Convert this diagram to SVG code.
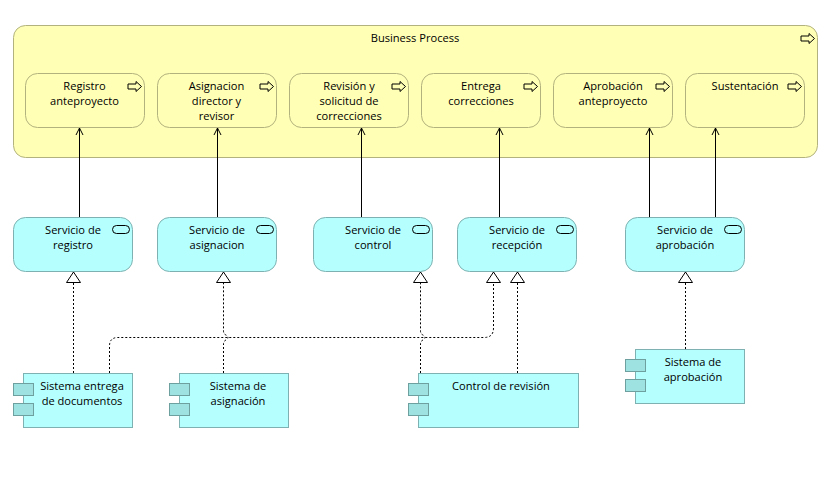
<svg xmlns="http://www.w3.org/2000/svg" width="826" height="496" viewBox="0 0 826 496">
<defs>
<marker id="open" markerUnits="userSpaceOnUse" markerWidth="10" markerHeight="10" refX="8" refY="5" orient="auto"><path d="M1 1.500 L8 5 L1 8.500" fill="none" stroke="#000" stroke-width="1"/></marker>
<marker id="tri" markerUnits="userSpaceOnUse" markerWidth="13" markerHeight="16" refX="11.500" refY="8" orient="auto"><path d="M11.500 8 L1 1 L1 15 Z" fill="#fff" stroke="#000" stroke-width="1"/></marker>
<g id="arrowIcon"><path d="M0.500 -2.500 H8.500 V-5 L14 0 L8.500 5 V2.500 H0.500 Z" fill="#ffffb5" stroke="#000" stroke-width="1"/></g>
<rect id="svcIcon" x="0" y="0" width="17" height="8" rx="4" ry="4" fill="#b5ffff" stroke="#000" stroke-width="1"/>
</defs>
<style>
text{font-family:"Open Sans","Noto Sans","Liberation Sans",sans-serif;font-size:11.1px;fill:#000;text-anchor:middle}
.proc{fill:#ffffb5;stroke:#b2b27e;stroke-width:1}
.svc{fill:#b5ffff;stroke:#7eb2b2;stroke-width:1}
.plug{fill:#9ee2e2;stroke:#6ea0a0;stroke-width:1}
.flow{fill:none;stroke:#000;stroke-width:1}
.real{fill:none;stroke:#000;stroke-width:1;stroke-dasharray:2 2}
</style>
<g id="business-process"><rect class="proc" x="13.500" y="25.500" width="804" height="132" rx="12"/><text x="415" y="42">Business Process</text><use href="#arrowIcon" x="800.500" y="38.500"/></g>
<g id="registro"><rect class="proc" x="25.500" y="73.500" width="119" height="54" rx="12"/><text x="84.500" y="90">Registro</text><text x="84.500" y="105">anteproyecto</text><use href="#arrowIcon" x="127.500" y="86.500"/></g>
<g id="asignacion"><rect class="proc" x="157.500" y="73.500" width="119" height="54" rx="12"/><text x="216.500" y="90">Asignacion</text><text x="216.500" y="105">director y</text><text x="216.500" y="120">revisor</text><use href="#arrowIcon" x="259.500" y="86.500"/></g>
<g id="revision"><rect class="proc" x="289.500" y="73.500" width="119" height="54" rx="12"/><text x="349" y="90">Revisión y</text><text x="349" y="105">solicitud de</text><text x="349" y="120">correcciones</text><use href="#arrowIcon" x="391.500" y="86.500"/></g>
<g id="entrega"><rect class="proc" x="421.500" y="73.500" width="119" height="54" rx="12"/><text x="481" y="90">Entrega</text><text x="481" y="105">correcciones</text><use href="#arrowIcon" x="523.500" y="86.500"/></g>
<g id="aprobacion"><rect class="proc" x="553.500" y="73.500" width="119" height="54" rx="12"/><text x="613" y="90">Aprobación</text><text x="613" y="105">anteproyecto</text><use href="#arrowIcon" x="655.500" y="86.500"/></g>
<g id="sustentacion"><rect class="proc" x="685.500" y="73.500" width="119" height="54" rx="12"/><text x="745" y="90">Sustentación</text><use href="#arrowIcon" x="787.500" y="86.500"/></g>
<g id="srv-registro"><rect class="svc" x="13.500" y="217.500" width="119" height="54" rx="12"/><text x="73" y="234">Servicio de</text><text x="73" y="249">registro</text><use href="#svcIcon" x="112.500" y="225.500"/></g>
<g id="srv-asignacion"><rect class="svc" x="157.500" y="217.500" width="119" height="54" rx="12"/><text x="217" y="234">Servicio de</text><text x="217" y="249">asignacion</text><use href="#svcIcon" x="256.500" y="225.500"/></g>
<g id="srv-control"><rect class="svc" x="313.500" y="217.500" width="119" height="54" rx="12"/><text x="373" y="234">Servicio de</text><text x="373" y="249">control</text><use href="#svcIcon" x="412.500" y="225.500"/></g>
<g id="srv-recepcion"><rect class="svc" x="457.500" y="217.500" width="119" height="54" rx="12"/><text x="517" y="234">Servicio de</text><text x="517" y="249">recepción</text><use href="#svcIcon" x="556.500" y="225.500"/></g>
<g id="srv-aprobacion"><rect class="svc" x="625.500" y="217.500" width="119" height="54" rx="12"/><text x="685" y="234">Servicio de</text><text x="685" y="249">aprobación</text><use href="#svcIcon" x="724.500" y="225.500"/></g>
<g id="sis-entrega"><rect class="svc" x="23.500" y="373.500" width="109" height="54"/><rect class="plug" x="13.500" y="383.500" width="20" height="12"/><rect class="plug" x="13.500" y="403.500" width="20" height="12"/><text x="82" y="390">Sistema entrega</text><text x="82" y="405">de documentos</text></g>
<g id="sis-asignacion"><rect class="svc" x="179.500" y="373.500" width="109" height="54"/><rect class="plug" x="169.500" y="383.500" width="20" height="12"/><rect class="plug" x="169.500" y="403.500" width="20" height="12"/><text x="238" y="390">Sistema de</text><text x="238" y="405">asignación</text></g>
<g id="sis-control"><rect class="svc" x="418.500" y="373.500" width="160" height="54"/><rect class="plug" x="408.500" y="383.500" width="20" height="12"/><rect class="plug" x="408.500" y="403.500" width="20" height="12"/><text x="501" y="390">Control de revisión</text></g>
<g id="sis-aprobacion"><rect class="svc" x="635.500" y="349.500" width="109" height="54"/><rect class="plug" x="625.500" y="359.500" width="20" height="12"/><rect class="plug" x="625.500" y="379.500" width="20" height="12"/><text x="693" y="366">Sistema de</text><text x="693" y="381">aprobación</text></g>
<g id="connectors">
<path class="flow" marker-end="url(#open)" d="M79.500 217 V128"/>
<path class="flow" marker-end="url(#open)" d="M217.500 217 V128"/>
<path class="flow" marker-end="url(#open)" d="M361.500 217 V128"/>
<path class="flow" marker-end="url(#open)" d="M499.500 217 V128"/>
<path class="flow" marker-end="url(#open)" d="M649.500 217 V128"/>
<path class="flow" marker-end="url(#open)" d="M715.500 217 V128"/>
<path class="real" marker-end="url(#tri)" d="M73.500 373 V272"/>
<path class="real" marker-end="url(#tri)" d="M223.500 373 V344 Q223.500 341 226 340 Q230 337.500 226 335 Q223.500 334 223.500 331 V272"/>
<path class="real" marker-end="url(#tri)" d="M420.500 373 V344 Q420.500 341 423 340 Q427 337.500 423 335 Q420.500 334 420.500 331 V272"/>
<path class="real" marker-end="url(#tri)" d="M517.500 373 V272"/>
<path class="real" marker-end="url(#tri)" d="M685.500 349 V272"/>
<path class="real" marker-end="url(#tri)" d="M109.500 373 V346 Q109.500 337.500 118 337.500 H484 Q493.500 337.500 493.500 328 V272"/>
</g>
</svg>
